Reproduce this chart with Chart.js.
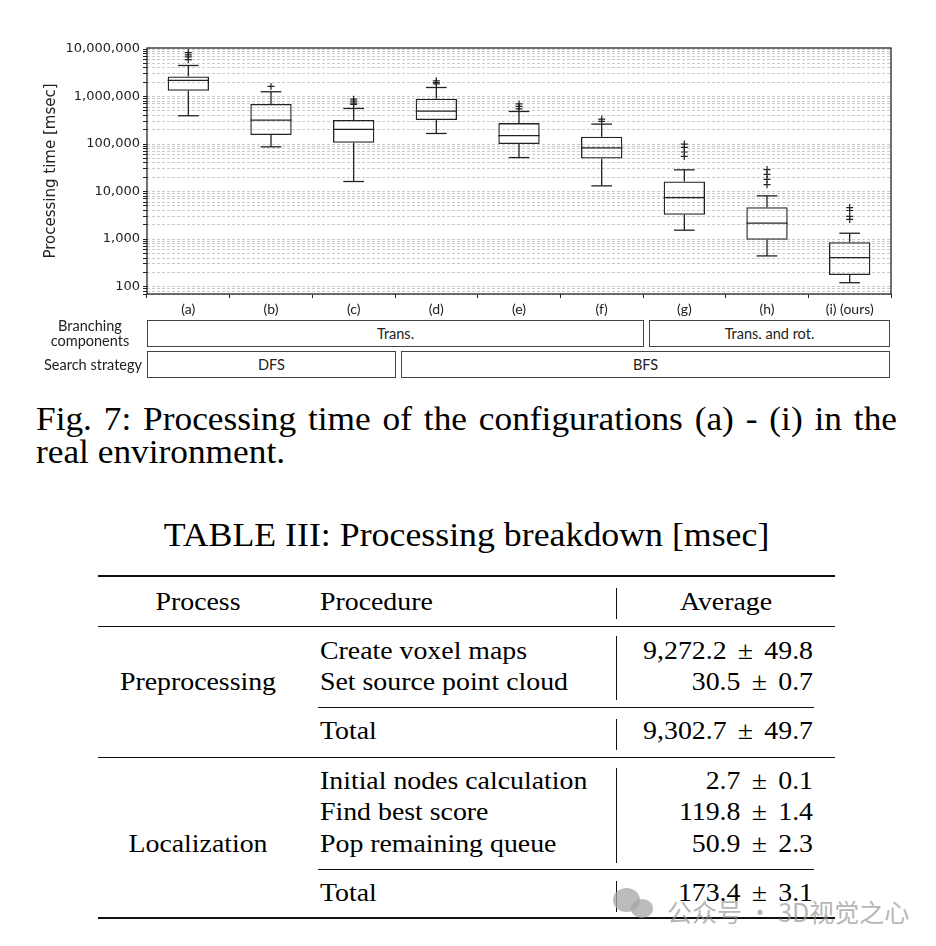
<!DOCTYPE html>
<html>
<head>
<meta charset="utf-8">
<script src="https://cdn.jsdelivr.net/npm/chart.js@4.4.0/dist/chart.umd.min.js"></script>
<style>
  body { margin: 0; background: #fff; width: 936px; height: 946px; position: relative; overflow: hidden; }
  #chart { position: absolute; left: 0; top: 0; }
  .abs { position: absolute; white-space: nowrap; color: #000; }
  .cell { position: absolute; box-sizing: border-box; border: 1px solid #444; display: flex;
          align-items: center; justify-content: center; font: 14.5px Lato, sans-serif; color: #222; }
  .rowlabel { position: absolute; font: 14.5px Lato, sans-serif; color: #222; text-align: center; line-height: 15px; }
  .serif { font-family: "Liberation Serif", "Times New Roman", serif; }
  .cap { font-size: 33px; line-height: 33px; }
  .tb { font-size: 26px; line-height: 30px; }
  .pm { margin: 0 4px; }
  .rule { position: absolute; background: #111; }
  .wm { position: absolute; color: rgba(150,150,150,0.7); font: 25px "Noto Sans CJK SC", sans-serif; white-space: nowrap; }
  .bub { position: absolute; border-radius: 50%; background: rgba(165,165,165,0.75); }
</style>
</head>
<body>
<canvas id="chart" width="936" height="320"></canvas>
<div id="extra"></div>
<script>
// box plot values [msec]
const categories = ['(a)', '(b)', '(c)', '(d)', '(e)', '(f)', '(g)', '(h)', '(i) (ours)'];
const whiskerLow  = [394000, 87500, 16300, 167000, 52000, 13200, 1540, 443, 121];
const quartile1   = [1320000, 155000, 106000, 320000, 99800, 49600, 3240, 964, 176];
const medians     = [2180000, 320000, 203000, 494000, 151000, 83400, 7480, 2160, 408];
const quartile3   = [2650000, 695000, 320000, 898000, 276000, 142000, 16300, 4700, 861];
const whiskerHigh = [4500000, 1260000, 561000, 1550000, 485000, 263000, 28700, 8130, 1330];
const outliers = [
  [8400000, 7500000, 6800000, 6000000],
  [1630000],
  [880000, 800000, 730000, 680000],
  [2150000, 1980000, 1840000],
  [700000, 620000, 550000],
  [335000, 300000],
  [100000, 85000, 68000, 55000],
  [29000, 23000, 18000, 14000],
  [4600, 4000, 3000, 2600]
];
const yDecades = [100, 1000, 10000, 100000, 1000000, 10000000];
const yMinorSteps = [2, 3, 4, 5, 6, 7, 8, 9];
const yBelowFirst = [70, 80, 90];

// annotation rows under the plot
const branchGroups = [{ label: 'Trans.', from: 0, to: 5 }, { label: 'Trans. and rot.', from: 6, to: 8 }];
const searchGroups = [{ label: 'DFS', from: 0, to: 2 }, { label: 'BFS', from: 3, to: 8 }];

// Table III
const tableHeader = ['Process', 'Procedure', 'Average'];
const tableRows = [
  { proc: 'Create voxel maps', mean: '9,272.2', sd: '49.8' },
  { proc: 'Set source point cloud', mean: '30.5', sd: '0.7' },
  { proc: 'Total', mean: '9,302.7', sd: '49.7' },
  { proc: 'Initial nodes calculation', mean: '2.7', sd: '0.1' },
  { proc: 'Find best score', mean: '119.8', sd: '1.4' },
  { proc: 'Pop remaining queue', mean: '50.9', sd: '2.3' },
  { proc: 'Total', mean: '173.4', sd: '3.1' }
];
const tableGroups = [{ label: 'Preprocessing', row: 1 }, { label: 'Localization', row: 5 }];

const fmt = v => v.toLocaleString('en-US');
const gridTicks = yBelowFirst.concat(...yDecades.map(d => d < 10000000 ? [d].concat(yMinorSteps.map(k => k * d)) : [d]));

const boxParts = {
  id: 'boxParts',
  afterDatasetsDraw(chart) {
    const { ctx, scales: { x, y } } = chart;
    const boxes = chart.getDatasetMeta(0).data;
    const line = (x1, y1, x2, y2) => { ctx.beginPath(); ctx.moveTo(x1, y1); ctx.lineTo(x2, y2); ctx.stroke(); };
    ctx.save();
    ctx.strokeStyle = '#222';
    ctx.lineWidth = 1.3;
    categories.forEach((c, i) => {
      const cx = x.getPixelForValue(i);
      const hw = boxes[i].width / 2, cw = hw / 2;
      const ym = y.getPixelForValue(medians[i]);
      line(cx - hw, ym, cx + hw, ym);
      const yq3 = y.getPixelForValue(quartile3[i]), yhi = y.getPixelForValue(whiskerHigh[i]);
      line(cx, yq3, cx, yhi);
      line(cx - cw, yhi, cx + cw, yhi);
      const yq1 = y.getPixelForValue(quartile1[i]), ylo = y.getPixelForValue(whiskerLow[i]);
      line(cx, yq1, cx, ylo);
      line(cx - cw, ylo, cx + cw, ylo);
    });
    ctx.restore();
  },
  afterDraw(chart) {
    const { ctx, chartArea: a } = chart;
    ctx.save();
    ctx.strokeStyle = '#111';
    ctx.lineWidth = 1.2;
    ctx.strokeRect(a.left, a.top, a.right - a.left, a.bottom - a.top);
    ctx.restore();
  }
};

new Chart(document.getElementById('chart'), {
  type: 'bar',
  data: {
    labels: categories,
    datasets: [
      {
        data: categories.map((c, i) => [quartile1[i], quartile3[i]]),
        backgroundColor: 'rgba(0,0,0,0)',
        borderColor: '#222',
        borderWidth: 1.3,
        borderSkipped: false,
        barPercentage: 0.5,
        categoryPercentage: 1
      },
      {
        type: 'line',
        showLine: false,
        data: categories.flatMap((c, i) => outliers[i].map(v => ({ x: c, y: v }))),
        pointStyle: 'cross',
        pointRadius: 3.5,
        pointBorderColor: '#222',
        pointBorderWidth: 1.2
      }
    ]
  },
  options: {
    responsive: false,
    animation: false,
    layout: { padding: { left: 0, right: 45, top: 48, bottom: 0 } },
    plugins: { legend: { display: false }, tooltip: { enabled: false } },
    scales: {
      x: {
        type: 'category',
        offset: true,
        grid: { drawOnChartArea: false, drawTicks: true, tickLength: 4, tickColor: '#222', tickWidth: 1 },
        border: { display: false },
        ticks: { color: '#222', padding: 3, font: { family: 'Lato', size: 14 }, maxRotation: 0, autoSkip: false },
        afterFit(s) { s.height = 26; }
      },
      y: {
        type: 'logarithmic',
        min: 70,
        max: 10500000,
        afterBuildTicks(s) { s.ticks = gridTicks.map(v => ({ value: v, major: yDecades.includes(v) })); },
        ticks: {
          autoSkip: false,
          color: '#222',
          padding: 3,
          font: { family: 'DejaVu Sans', size: 13 },
          callback: v => yDecades.includes(v) ? fmt(v) : ''
        },
        grid: { color: '#bdbdbd', lineWidth: 0.8, tickLength: 4, tickColor: '#222', tickWidth: 1 },
        border: { display: false, dash: [3, 2] },
        title: { display: true, text: 'Processing time [msec]', color: '#222',
                 font: { family: 'DejaVu Sans', size: 15 }, padding: { top: 42, bottom: 0 } },
        afterFit(s) { s.width = 147; }
      }
    }
  },
  plugins: [boxParts]
});

// ---- HTML parts: annotation rows, caption, table, watermark ----
const extra = document.getElementById('extra');
const add = (cls, text, style) => {
  const d = document.createElement('div');
  d.className = cls;
  if (text !== null) d.textContent = text;
  Object.assign(d.style, style);
  extra.appendChild(d);
  return d;
};

const plotL = 147, plotR = 891, step = (plotR - plotL) / categories.length;
const cellBoxes = (groups, top) => groups.forEach((g, k) => {
  const l = k > 0 ? plotL + g.from * step + 6 : plotL;
  const r = k < groups.length - 1 ? plotL + (g.to + 1) * step + 1 : plotR - 1;
  add('cell', g.label, { left: l + 'px', top: top + 'px', width: (r - l) + 'px', height: '27px' });
});
cellBoxes(branchGroups, 320);
cellBoxes(searchGroups, 351);
add('rowlabel', null, { left: '38px', top: '318px', width: '104px' }).innerHTML = 'Branching<br>components';
add('rowlabel', 'Search strategy', { left: '20px', top: '357px', width: '122px', textAlign: 'right' });

// caption (the figure text is slightly wider than plain Times)
const sx = (k, origin) => ({ transform: 'scaleX(' + k + ')', transformOrigin: origin });
add('abs serif cap', 'Fig. 7: Processing time of the configurations (a) - (i) in the',
    Object.assign({ left: '36px', top: '402.5px', width: (861 / 1.07) + 'px', textAlign: 'justify', textAlignLast: 'justify' }, sx(1.07, 'left')));
add('abs serif cap', 'real environment.', Object.assign({ left: '36px', top: '435.5px' }, sx(1.07, 'left')));
add('abs serif cap', 'TABLE III: Processing breakdown [msec]',
    Object.assign({ left: '16px', top: '519px', width: '901px', textAlign: 'center' }, sx(1.085, 'center')));

// table
const tL = 98, tR = 835, bar = 616, valR = 813, tsx = 1.07;
const rowBase = [660, 691, 740, 790, 821, 853, 902];
const topOf = b => (b - 23.8) + 'px';
const cellText = (text, base, style, origin) =>
  add('abs serif tb', text, Object.assign({ top: topOf(base) }, style, sx(tsx, origin)));
cellText(tableHeader[0], 611, { left: '98px', width: '200px', textAlign: 'center' }, 'center');
cellText(tableHeader[1], 611, { left: '320px' }, 'left');
cellText(tableHeader[2], 611, { left: (bar + 10) + 'px', width: '200px', textAlign: 'center' }, 'center');
tableRows.forEach((r, i) => {
  cellText(r.proc, rowBase[i], { left: '320px' }, 'left');
  const v = cellText(null, rowBase[i], { left: (valR - 300) + 'px', width: '300px', textAlign: 'right' }, 'right');
  v.innerHTML = r.mean + ' <span class="pm">±</span> ' + r.sd;
});
tableGroups.forEach(g => cellText(g.label, rowBase[g.row], { left: '98px', width: '200px', textAlign: 'center' }, 'center'));

const hRule = (y, h, l, r) => add('rule', null, { left: l + 'px', top: y + 'px', width: (r - l) + 'px', height: h + 'px' });
hRule(575, 2, tL, tR);
hRule(626, 1.3, tL, tR);
hRule(707, 1, 318, 814);
hRule(756.5, 1.5, tL, tR);
hRule(869, 1, 318, 814);
hRule(917, 2, tL, tR);
[[588, 619], [636, 700], [719, 750], [768, 863], [881, 912]].forEach(([a, b]) =>
  add('rule', null, { left: bar + 'px', top: a + 'px', width: '1.2px', height: (b - a) + 'px' }));

// watermark
add('bub', null, { left: '613px', top: '888px', width: '27px', height: '24px' });
add('bub', null, { left: '631px', top: '899px', width: '22px', height: '19px' });
add('wm', '公众号 · 3D视觉之心', { left: '667px', top: '893px' });
</script>
</body>
</html>
